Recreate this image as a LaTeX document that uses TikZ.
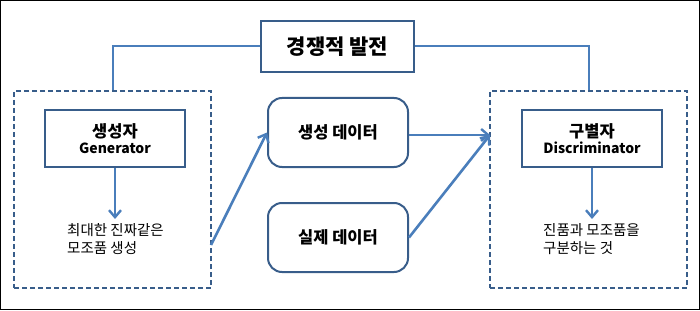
\documentclass[tikz,border=0pt]{standalone}
\usepackage{fontspec}
\setmainfont{Noto Sans CJK KR}
\usetikzlibrary{arrows.meta}
\definecolor{boxc}{HTML}{385D8A}
\definecolor{linec}{HTML}{4A7EBB}
\tikzset{
  sqbox/.style={draw=boxc, line width=2pt, rectangle, inner sep=0pt, align=center, font=\bfseries\fontsize{16.5}{20}\selectfont},
  rbox/.style={sqbox, rounded corners=14pt, minimum width=140pt, minimum height=69pt},
  dbox/.style={draw=boxc, line width=2pt, dash pattern=on 5pt off 3pt, rectangle, inner sep=0pt, minimum width=197pt, minimum height=197pt},
  conn/.style={draw=linec, line width=2pt},
  arr/.style={draw=linec, line width=2.6pt, -{Straight Barb[length=7pt,width=12pt,line width=2.4pt]}},
  note/.style={anchor=west, align=left, inner sep=0pt, font=\fontsize{14.5}{18}\selectfont}
}
\begin{document}
\begin{tikzpicture}[x=1pt,y=-1pt]
\useasboundingbox (0,0) rectangle (700,310);
\draw[black, line width=1pt] (0.5,0.5) rectangle (699.5,309.5);

\node[sqbox, minimum width=153pt, minimum height=51pt, font=\bfseries\fontsize{21}{24}\selectfont] (title) at (337.5,46.5) {경쟁적 발전};

\node[dbox] (gbox) at (112.5,189.5) {};
\node[dbox] (dbox) at (588.5,189.5) {};

\node[sqbox, minimum width=140pt, minimum height=57pt] (gen) at (115,138.5) {생성자\\[-4pt]{\fontsize{14}{17}\selectfont Generator}};
\node[sqbox, minimum width=140pt, minimum height=57pt] (disc) at (592,138.5) {구별자\\[-4pt]{\fontsize{14}{17}\selectfont Discriminator}};

\node[note] (gtext) at (67,239) {최대한 진짜같은\\모조품 생성};
\node[note] (dtext) at (543,239) {진품과 모조품을\\구분하는 것};

\node[rbox] (gdata) at (338,132.5) {생성 데이터};
\node[rbox] (rdata) at (338,237.5) {실제 데이터};

\coordinate (gout) at (211,245);
\coordinate (din) at (490,135);

\draw[conn] (title.west) -| (gbox.north);
\draw[conn] (title.east) -| (dbox.north);

\draw[arr] (gen.south) -- ++(0,51);
\draw[arr] (disc.south) -- ++(0,51);

\draw[arr] (gout) -- (gdata.west);
\draw[arr] (gdata.east |- din) -- (din);
\draw[arr] (rdata.east) -- (din);
\end{tikzpicture}
\end{document}
